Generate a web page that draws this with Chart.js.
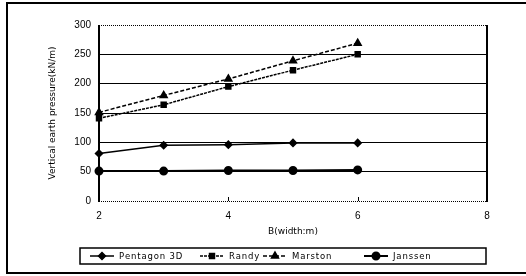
<!DOCTYPE html>
<html><head><meta charset="utf-8">
<script src="https://cdn.jsdelivr.net/npm/chart.js@4/dist/chart.umd.min.js"></script>
<style>html,body{margin:0;padding:0;background:#fff}#wrap{width:526px;height:276px}</style>
</head><body><div id="wrap"><canvas id="c" width="526" height="276"></canvas></div>
<script>
const widths = [2, 3, 4, 5, 6];
const pentagon3D = [81, 95, 96, 99, 99];
const randy = [141, 164, 195, 223, 250];
const marston = [151, 180, 208, 239, 269];
const janssen = [51, 51, 52, 52, 53];
const seriesNames = ['Pentagon 3D', 'Randy', 'Marston', 'Janssen'];
const xTicks = [2, 4, 6, 8];
const yTicks = [0, 50, 100, 150, 200, 250, 300];
const yTitle = 'Vertical earth pressure(kN/m)';
const xTitle = 'B(width:m)';

const FONT = "'Liberation Sans', Arial, sans-serif";
const WFONT = "'DejaVu Sans', sans-serif";
const pts = arr => widths.map((x, i) => ({x: x, y: arr[i]}));
const styles = [
  {data: pentagon3D, pointStyle: 'rectRot', radius: 3.5, dash: [], lw: 1.5},
  {data: randy, pointStyle: 'rect', radius: 3.5, dash: [3, 1], lw: 1.5},
  {data: marston, pointStyle: 'triangle', radius: 4, dash: [4, 2], lw: 1.5},
  {data: janssen, pointStyle: 'circle', radius: 3.5, dash: [], lw: 2}
];

const frame = {
  id: 'frame',
  beforeDraw(chart) {
    const ctx = chart.ctx;
    ctx.save();
    ctx.fillStyle = '#fff';
    ctx.fillRect(0, 0, 526, 276);
    ctx.restore();
  },
  afterDraw(chart) {
    const ctx = chart.ctx, a = chart.chartArea;
    const xs = chart.scales.x;
    ctx.save();
    ctx.strokeStyle = '#000';
    ctx.lineWidth = 2;
    ctx.strokeRect(7, 3, 530, 270);
    ctx.lineWidth = 1;
    ctx.setLineDash([1, 1]);
    ctx.beginPath();
    ctx.moveTo(a.left, a.top + 0.5); ctx.lineTo(a.right, a.top + 0.5);
    ctx.moveTo(a.left, a.bottom + 0.5); ctx.lineTo(a.right, a.bottom + 0.5);
    ctx.stroke();
    ctx.setLineDash([]);
    ctx.lineWidth = 2;
    ctx.beginPath();
    ctx.moveTo(a.left, a.top); ctx.lineTo(a.left, a.bottom + 1);
    ctx.moveTo(a.right, a.top); ctx.lineTo(a.right, a.bottom + 1);
    ctx.stroke();
    ctx.lineWidth = 1;
    ctx.beginPath();
    xTicks.slice(1, -1).forEach(v => {
      const px = Math.round(xs.getPixelForValue(v)) + 0.5;
      ctx.moveTo(px, a.bottom); ctx.lineTo(px, a.bottom - 4);
    });
    ctx.stroke();
    // legend
    const lx = 80, ly = 248, lw = 406, lh = 16;
    ctx.lineWidth = 1.5;
    ctx.strokeRect(lx, ly, lw, lh);
    ctx.font = '8.5px ' + WFONT;
    ctx.textBaseline = 'middle';
    ctx.fillStyle = '#000';
    const starts = [90, 200, 263, 364];
    const cy = ly + lh / 2;
    chart.data.datasets.forEach((ds, i) => {
      const sx = starts[i];
      ctx.strokeStyle = '#000';
      ctx.lineWidth = ds.borderWidth;
      ctx.setLineDash(ds.borderDash || []);
      ctx.beginPath(); ctx.moveTo(sx, cy); ctx.lineTo(sx + 24, cy); ctx.stroke();
      ctx.setLineDash([]);
      Chart.helpers.drawPoint(ctx, {pointStyle: ds.pointStyle, radius: ds.pointRadius, borderWidth: 1}, sx + 12, cy);
      ctx.fillText(ds.label.split('').join('\u200A'), sx + 29, cy + 0.5);
    });
    ctx.restore();
  }
};

new Chart(document.getElementById('c'), {
  type: 'line',
  data: {
    datasets: styles.map((s, i) => ({
      label: seriesNames[i],
      data: pts(s.data),
      borderColor: '#000',
      backgroundColor: '#000',
      pointBackgroundColor: '#000',
      pointBorderColor: '#000',
      borderWidth: s.lw,
      borderDash: s.dash,
      pointStyle: s.pointStyle,
      pointRadius: s.radius,
      tension: 0,
      fill: false,
      clip: false
    }))
  },
  options: {
    responsive: false,
    animation: false,
    devicePixelRatio: 1,
    layout: {padding: {left: 43, right: 39, top: 25, bottom: 35}},
    plugins: {legend: {display: false}, tooltip: {enabled: false}},
    scales: {
      x: {
        type: 'linear', min: 2, max: 8,
        afterFit: s => { s.height = 40; },
        afterBuildTicks: s => { s.ticks = xTicks.map(v => ({value: v})); },
        grid: {display: false, drawTicks: false},
        border: {display: false},
        ticks: {padding: 9, color: '#000', font: {family: FONT, size: 10}},
        title: {display: true, text: xTitle, color: '#000', font: {family: WFONT, size: 9}, padding: {top: 4, bottom: 4}}
      },
      y: {
        min: 0, max: 300,
        afterFit: s => { s.width = 56; },
        afterBuildTicks: s => { s.ticks = yTicks.map(v => ({value: v})); },
        grid: {color: c => (c.tick && (c.tick.value === 0 || c.tick.value === 300)) ? 'rgba(0,0,0,0)' : '#000', lineWidth: 1, drawTicks: false},
        border: {display: false},
        ticks: {padding: 8, color: '#000', font: {family: FONT, size: 10}},
        title: {display: true, text: yTitle, color: '#000', font: {family: WFONT, size: 9}, padding: {top: 4, bottom: 4}}
      }
    }
  },
  plugins: [frame]
});
</script></body></html>
